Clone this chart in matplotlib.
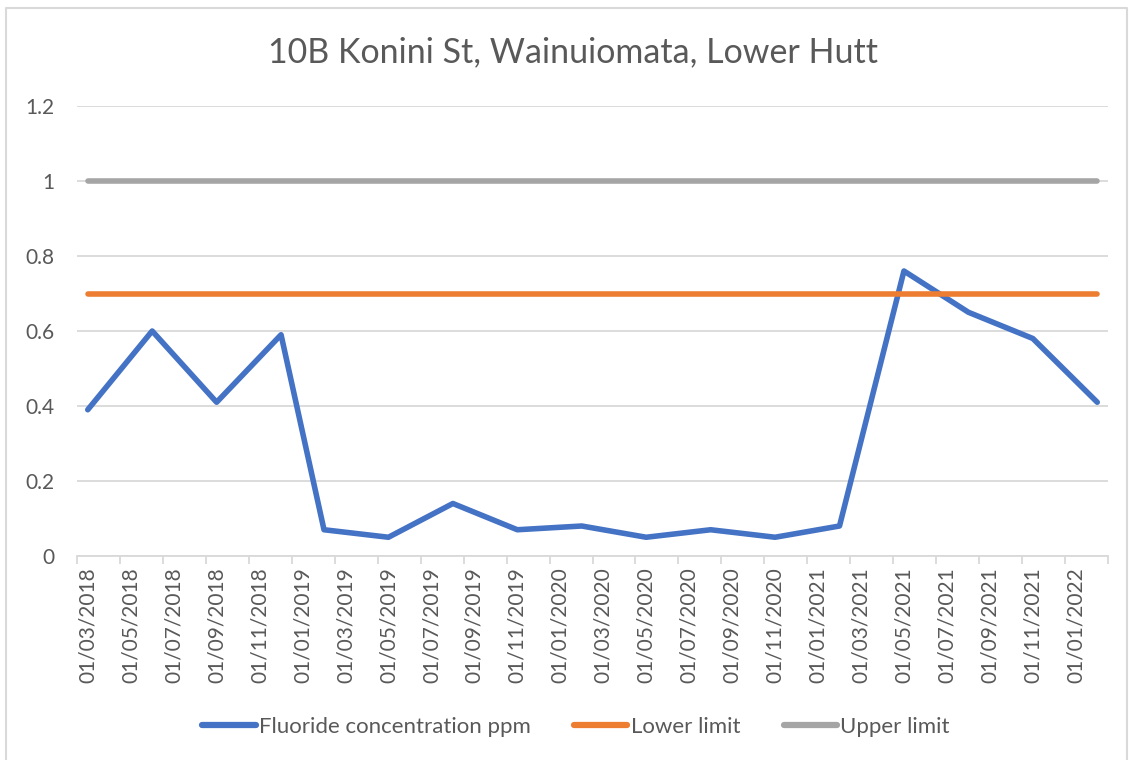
import matplotlib
matplotlib.use("Agg")
import matplotlib.pyplot as plt
import numpy as np

# sample months (Excel date axis, base unit = month)
sample_months = ["2018-03", "2018-06", "2018-09", "2018-12", "2019-02", "2019-05",
                 "2019-08", "2019-11", "2020-02", "2020-05", "2020-08", "2020-11",
                 "2021-02", "2021-05", "2021-08", "2021-11", "2022-02"]
fluoride = [0.39, 0.60, 0.41, 0.59, 0.07, 0.05, 0.14, 0.07, 0.08, 0.05,
            0.07, 0.05, 0.08, 0.76, 0.65, 0.58, 0.41]
lower_limit = [0.7] * len(sample_months)
upper_limit = [1.0] * len(sample_months)

tick_labels = ["01/03/2018", "01/05/2018", "01/07/2018", "01/09/2018", "01/11/2018",
               "01/01/2019", "01/03/2019", "01/05/2019", "01/07/2019", "01/09/2019",
               "01/11/2019", "01/01/2020", "01/03/2020", "01/05/2020", "01/07/2020",
               "01/09/2020", "01/11/2020", "01/01/2021", "01/03/2021", "01/05/2021",
               "01/07/2021", "01/09/2021", "01/11/2021", "01/01/2022"]


def month_index(s):
    y, m = s.split("-")
    return (int(y) - 2018) * 12 + int(m) - 3


x = np.array([month_index(s) for s in sample_months])
tick_pos = [month_index(t[6:] + "-" + t[3:5]) for t in tick_labels]

plt.rcParams['font.family'] = ['Lato', 'DejaVu Sans']
grey_txt = "#595959"
grid_c = "#d9d9d9"

fig = plt.figure(figsize=(11.32, 7.6), dpi=100)
ax = fig.add_axes([77 / 1132, 1 - 556 / 760, (1108 - 77) / 1132, (556 - 106) / 760])

ax.plot(x, fluoride, color="#4472C4", lw=4, solid_capstyle="round",
        solid_joinstyle="round", label="Fluoride concentration ppm", zorder=3)
ax.plot(x, lower_limit, color="#ED7D31", lw=4, solid_capstyle="round",
        label="Lower limit", zorder=3)
ax.plot(x, upper_limit, color="#A5A5A5", lw=4, solid_capstyle="round",
        label="Upper limit", zorder=3)

ax.set_xlim(x[0] - 0.5, x[-1] + 0.5)
ax.set_ylim(0, 1.2)
ax.set_yticks(np.arange(0, 1.21, 0.2))
ax.set_yticklabels(["0", "0.2", "0.4", "0.6", "0.8", "1", "1.2"])
ax.grid(axis="y", color=grid_c, lw=1.3)
ax.set_axisbelow(True)

ax.set_xticks(tick_pos)
ax.set_xticklabels(tick_labels, rotation=90)
ax.set_xticks(np.arange(x[0] - 0.5, x[-1] + 1, 2), minor=True)
ax.tick_params(axis="x", which="major", length=0, pad=8, labelsize=15, labelcolor=grey_txt)
ax.tick_params(axis="x", which="minor", length=6, color=grid_c, width=1.3)
ax.tick_params(axis="y", length=0, pad=16, labelsize=15, labelcolor=grey_txt)

for s in ["top", "right", "left"]:
    ax.spines[s].set_visible(False)
ax.spines["bottom"].set_color(grid_c)
ax.spines["bottom"].set_linewidth(1.3)

fig.text(573 / 1132, 1 - 52 / 760, "10B Konini St, Wainuiomata, Lower Hutt",
         ha="center", va="center", fontsize=24.5, color=grey_txt)

leg = fig.legend(loc="center", bbox_to_anchor=(576 / 1132, 1 - 727 / 760), ncol=3,
                 frameon=False, fontsize=16, handlelength=2.4, handletextpad=0.15,
                 columnspacing=1.95, labelcolor=grey_txt)
for h in leg.get_lines():
    h.set_solid_capstyle("round")
    h.set_linewidth(4.5)

# chart area border
fig.add_artist(plt.Line2D([6 / 1132, 6 / 1132, 1127 / 1132, 1127 / 1132],
                          [0, 1 - 8 / 760, 1 - 8 / 760, 0], transform=fig.transFigure,
                          color=grid_c, lw=1.5))

fig.savefig("out.png", dpi=100)
